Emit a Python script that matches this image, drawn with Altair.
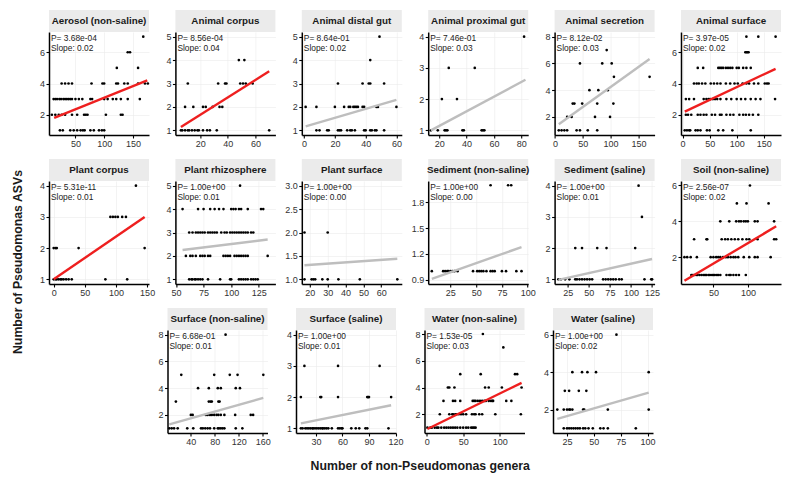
import altair as alt
import pandas as pd

# ---------------- data ----------------
TITLES = ["Aerosol (non-saline)", "Animal corpus", "Animal distal gut", "Animal proximal gut",
          "Animal secretion", "Animal surface", "Plant corpus", "Plant rhizosphere",
          "Plant surface", "Sediment (non-saline)", "Sediment (saline)", "Soil (non-saline)",
          "Surface (non-saline)", "Surface (saline)", "Water (non-saline)", "Water (saline)"]

P_TEXT = ["3.68e-04", "8.56e-04", "8.64e-01", "7.46e-01", "8.12e-02", "3.97e-05",
          "5.31e-11", "1.00e+00", "1.00e+00", "1.00e+00", "1.00e+00", "2.56e-07",
          "6.68e-01", "1.00e+00", "1.53e-05", "1.00e+00"]
SLOPE_TEXT = ["0.02", "0.04", "0.02", "0.03", "0.03", "0.02", "0.01", "0.01",
              "0.00", "0.00", "0.01", "0.02", "0.01", "0.01", "0.03", "0.02"]
SIGNIFICANT = [True, True, False, False, False, True, True, False,
               False, False, False, True, False, False, True, False]

# points: {ASV count: [number of non-Pseudomonas genera, ...]}
aerosol = {1: [23, 28, 41, 47, 53, 59, 63, 66, 76, 82, 91, 96, 100],
           2: [9, 15, 21, 26, 32, 44, 53, 65, 68, 71, 103, 129, 132],
           3: [12, 15, 18, 22, 25, 29, 32, 35, 38, 41, 44, 50, 56, 62, 76, 79, 100, 106, 115, 121, 129, 141, 162],
           4: [26, 32, 38, 44, 78, 97, 100, 121, 124, 135, 141, 159, 171, 176],
           5: [122, 159], 6: [141, 145], 7: [168]}
animal_corpus = {1: [6, 7, 9, 11, 12, 14, 16, 18, 19, 22, 25, 27, 32, 70],
                 2: [9, 15, 22, 24, 29, 34, 36],
                 3: [11, 33, 38, 39, 49, 51, 53, 58],
                 4: [48, 52]}
distal_gut = {1: [8, 10, 15, 16, 22, 23, 24, 28, 30, 31, 33, 39, 40, 43, 44, 46, 47, 52],
              2: [1, 8, 20, 26, 29, 30, 32, 33, 34, 35, 38, 39, 47, 48, 60],
              3: [22, 38, 42, 43, 52], 4: [43], 5: [49]}
proximal_gut = {1: [14, 19, 24, 25, 26, 37, 38, 51, 52, 53], 2: [22, 33], 3: [27, 46], 4: [82]}
secretion = {1: [7, 12, 17, 22, 39, 45, 59, 76], 2: [22, 30, 72, 99], 3: [32, 35, 49, 76, 105],
             4: [62, 78, 95], 5: [106, 170], 6: [45, 85, 102], 7: [93]}
animal_surface = {1: [4, 8, 12, 14, 24, 28, 33, 45, 50, 66, 75, 92, 126],
                  2: [6, 10, 16, 28, 33, 39, 44, 54, 60, 69, 72, 81, 88, 94, 105, 112, 117, 123, 130, 140],
                  3: [6, 12, 21, 39, 44, 48, 51, 56, 60, 64, 70, 81, 90, 100, 108, 116, 126, 135, 144, 171],
                  4: [21, 26, 30, 36, 42, 52, 58, 64, 70, 80, 88, 96, 102, 111, 118, 123, 132, 140, 152, 156, 159],
                  5: [28, 38, 66, 69, 72, 75, 80, 84, 88, 92, 100, 104, 112, 118, 126],
                  6: [116, 118, 120, 122], 7: [118, 140, 172]}
plant_corpus = {1: [0, 3, 5, 8, 11, 13, 16, 20, 24, 29, 83, 118], 2: [0, 3, 5, 40, 146],
                3: [91, 95, 99, 103, 110, 116], 4: [132]}
rhizosphere = {1: [62, 64, 65, 67, 68, 70, 72, 74, 79, 90, 99, 100, 107, 109, 111, 113, 115, 118, 120, 122, 124],
               2: [59, 63, 65, 68, 72, 74, 76, 79, 81, 93, 95, 97, 99, 103, 105, 107, 109, 111, 113, 115, 133],
               3: [62, 65, 68, 70, 72, 74, 76, 79, 81, 83, 85, 87, 91, 94, 96, 99, 101, 103, 105, 107, 109, 111, 113, 115, 118, 120],
               4: [56, 70, 75, 81, 85, 89, 93, 100, 102, 104, 107, 109, 115, 127, 129],
               5: [108]}
plant_surface = {1: [17, 21, 22, 23, 27, 30, 36, 48, 69], 2: [17, 30]}
sediment_ns = {1: [7, 18, 20, 22, 23, 25, 27, 29, 32, 47, 51, 53, 55, 57, 60, 64, 66, 68, 75, 79, 89, 94],
               2: [64, 81, 84]}
sediment_s = {1: [14, 17, 22, 27, 34, 36, 39, 42, 45, 48, 51, 54, 67, 70, 73, 76, 79, 82, 86, 89, 116, 124, 125],
              2: [34, 42, 60, 71, 105], 3: [113], 4: [109]}
soil = {1: [18, 20, 22, 25, 27, 30, 33, 36, 38, 40, 43, 45, 48, 50, 52, 55, 57, 60, 69, 73, 75, 79, 83, 87, 97],
        2: [8, 12, 17, 26, 46, 50, 54, 57, 60, 64, 68, 71, 75, 79, 82, 86, 94, 102, 110, 114, 133],
        3: [22, 40, 41, 62, 67, 71, 76, 81, 86, 92, 98, 102, 114, 138, 141],
        4: [60, 73, 83, 87, 90, 94, 97, 100, 110, 114, 138],
        5: [84, 98, 130], 6: [103]}
surface_ns = {1: [4, 8, 12, 18, 34, 44, 57, 60, 64, 68, 72, 79, 85, 87, 90, 93, 96, 115, 126],
              2: [40, 43, 65, 68, 72, 75, 79, 83, 86, 90, 96, 114, 140, 144],
              3: [15, 70, 73, 75, 86, 88],
              4: [52, 70, 85, 90, 115, 122],
              5: [24, 79, 105, 118, 161], 8: [98]}
surface_s = {1: [13, 15, 18, 20, 22, 24, 26, 27, 29, 31, 33, 35, 37, 38, 40, 42, 44, 48, 55, 57, 59, 60, 70, 75, 79, 86, 88, 112],
             2: [13, 35, 36, 55, 88, 89, 90, 115],
             3: [17, 55, 102]}
water_ns = {1: [1, 5, 7, 11, 14, 16, 20, 24, 27, 30, 33, 36, 39, 42, 46, 50, 54, 57, 61, 63, 65, 67],
            2: [18, 31, 35, 36, 39, 41, 44, 47, 50, 54, 62, 65, 67, 72, 76, 94, 129],
            3: [23, 36, 39, 46, 63, 65, 67, 70, 73, 76, 79, 81, 85, 88, 90, 91, 109, 116],
            4: [29, 31, 38, 80, 85, 103, 130],
            5: [46, 74, 121, 124], 7: [105], 8: [77]}
water_s = {1: [22, 25, 27, 29, 31, 33, 35, 37, 40, 42, 45, 49, 56, 59, 63, 89],
           2: [16, 22, 25, 27, 28, 30, 40, 41, 63, 101],
           3: [23, 27, 36, 43],
           4: [30, 39, 44, 52, 101], 6: [71]}

POINTS = [aerosol, animal_corpus, distal_gut, proximal_gut, secretion, animal_surface,
          plant_corpus, rhizosphere, plant_surface, sediment_ns, sediment_s, soil,
          surface_ns, surface_s, water_ns, water_s]

# fitted line end points (x0, y0, x1, y1)
FIT_LINES = [(13, 1.8, 175, 4.2), (6, 1.14, 70, 3.52), (1, 1.17, 60, 2.3), (14, 1.0, 83, 2.62),
             (7, 1.45, 170, 6.33), (4, 2.2, 172, 4.94), (0, 1.0, 146, 3.0), (56, 2.25, 133, 2.7),
             (17, 1.3, 69, 1.44), (7, 0.91, 94, 1.28), (14, 0.98, 125, 1.65), (8, 0.68, 141, 3.72),
             (4, 1.3, 161, 3.27), (13, 1.16, 115, 1.74), (1, 0.9, 130, 4.35), (16, 1.5, 101, 2.91)]

X_DOMAIN = [[4, 178], [2, 74.5], [-1.5, 63.5], [12, 85], [-0.5, 179], [-3, 182], [-7.5, 153], [49.5, 140],
            [15.5, 71.5], [3.5, 100.5], [9.5, 128], [3, 148], [1, 168], [7.5, 120.5], [-3, 134], [12, 105]]
Y_DOMAIN = [[0.7, 7.3], [0.8, 5.2], [0.8, 5.2], [0.85, 4.15], [0.65, 8.35], [0.7, 7.3], [0.85, 4.15], [0.8, 5.2],
            [0.9, 3.1], [0.85, 2.05], [0.85, 4.15], [0.5, 6.25], [0.65, 8.35], [0.85, 4.15], [0.6, 8.3], [0.75, 6.25]]
X_TICKS = [[50, 100, 150], [20, 40, 60], [0, 20, 40, 60], [20, 40, 60, 80], [0, 50, 100, 150],
           [0, 50, 100, 150], [0, 50, 100, 150], [50, 75, 100, 125], [20, 30, 40, 50, 60],
           [25, 50, 75, 100], [25, 50, 75, 100, 125], [50, 100], [40, 80, 120, 160],
           [30, 60, 90, 120], [0, 50, 100], [25, 50, 75, 100]]
Y_TICKS = [[2, 4, 6], [1, 2, 3, 4, 5], [1, 2, 3, 4, 5], [1, 2, 3, 4], [2, 4, 6, 8], [2, 4, 6],
           [1, 2, 3, 4], [1, 2, 3, 4, 5], [1, 1.5, 2, 2.5, 3], [0.9, 1.2, 1.5, 1.8], [1, 2, 3, 4],
           [2, 4, 6], [2, 4, 6, 8], [1, 2, 3, 4], [2, 4, 6, 8], [2, 4, 6]]

Y_TITLE = "Number of Pseudomonas ASVs"
X_TITLE = "Number of non-Pseudomonas genera"

# ---------------- layout / style ----------------
W, H = 100, 103
STRIP = 22
FONT = "Liberation Sans"
RED = "#EE1F1F"
GREY = "#BEBEBE"


def panel(i):
    pts = pd.DataFrame([{"x": x, "y": y} for y, xs in POINTS[i].items() for x in xs])
    x0, y0, x1, y1 = FIT_LINES[i]
    fit = pd.DataFrame({"x": [x0, x1], "y": [y0, y1]})
    yfmt = ".1f" if i in (8, 9) else "d"
    xenc = alt.X("x:Q", scale=alt.Scale(domain=X_DOMAIN[i], nice=False, zero=False),
                 axis=alt.Axis(values=X_TICKS[i], title=None, format="d"))
    yenc = alt.Y("y:Q", scale=alt.Scale(domain=Y_DOMAIN[i], nice=False, zero=False),
                 axis=alt.Axis(values=Y_TICKS[i], title=None, format=yfmt))
    lab = pd.DataFrame({"t": [f"P= {P_TEXT[i]}\nSlope: {SLOPE_TEXT[i]}"], "s": [TITLES[i]]})

    points = alt.Chart(pts).mark_circle(size=7, color="black", opacity=1).encode(x=xenc, y=yenc)
    line = alt.Chart(fit).mark_line(color=RED if SIGNIFICANT[i] else GREY, strokeWidth=2.4).encode(x=xenc, y=yenc)
    strip_bg = alt.Chart(lab).mark_rect(color="#EBEBEB", clip=False).encode(
        x=alt.value(0), x2=alt.value(W), y=alt.value(-STRIP), y2=alt.value(0))
    strip_txt = alt.Chart(lab).mark_text(font=FONT, fontWeight="bold", fontSize=9.8, color="#1A1A1A",
                                         align="center", baseline="middle").encode(
        x=alt.value(W / 2), y=alt.value(-STRIP / 2), text="s:N")
    ann = alt.Chart(lab).mark_text(font=FONT, fontSize=8.4, color="#222222", align="left", baseline="top",
                                   lineBreak="\n", lineHeight=9.5).encode(
        x=alt.value(2), y=alt.value(2), text="t:N")
    return alt.layer(points, line, ann, strip_bg, strip_txt).properties(width=W, height=H)


row1 = alt.hconcat(*[panel(i) for i in range(0, 6)], spacing=26.4, bounds="flush")
row2 = alt.hconcat(*[panel(i) for i in range(6, 12)], spacing=26.4, bounds="flush")
spacer = alt.Chart(pd.DataFrame({"a": [0]})).mark_point(opacity=0).encode(
    x=alt.value(0), y=alt.value(0)).properties(width=90, height=H)
row3 = alt.hconcat(spacer, *[panel(i) for i in range(12, 16)], spacing=28.5, bounds="flush")

grid = alt.vconcat(row1, row2, row3, spacing=10).properties(
    title=alt.TitleParams(X_TITLE, orient="bottom", anchor="middle", font=FONT, fontSize=12.3,
                          fontWeight="bold", color="#1A1A1A", offset=13, dx=10))

ytitle = alt.Chart(pd.DataFrame({"t": [Y_TITLE]})).mark_text(
    font=FONT, fontSize=12.3, fontWeight="bold", color="#1A1A1A", angle=270,
    align="center", baseline="middle").encode(
    x=alt.value(8), y=alt.value(230), text="t:N").properties(width=14, height=440)

chart = alt.hconcat(ytitle, grid, spacing=14).properties(
    padding={"left": 2, "top": 2, "right": 2, "bottom": 2}
).configure_view(stroke=None).configure_axis(
    domainColor="black", domainWidth=1.5, tickColor="black", tickSize=3, tickWidth=1.1,
    labelFont=FONT, labelFontSize=9, labelColor="#333333", labelPadding=1.5,
    gridColor="#EBEBEB", gridWidth=0.6, labelFlush=False, labelOverlap=False
)

chart.save("out.html", embed_options={"renderer": "svg", "actions": False})
